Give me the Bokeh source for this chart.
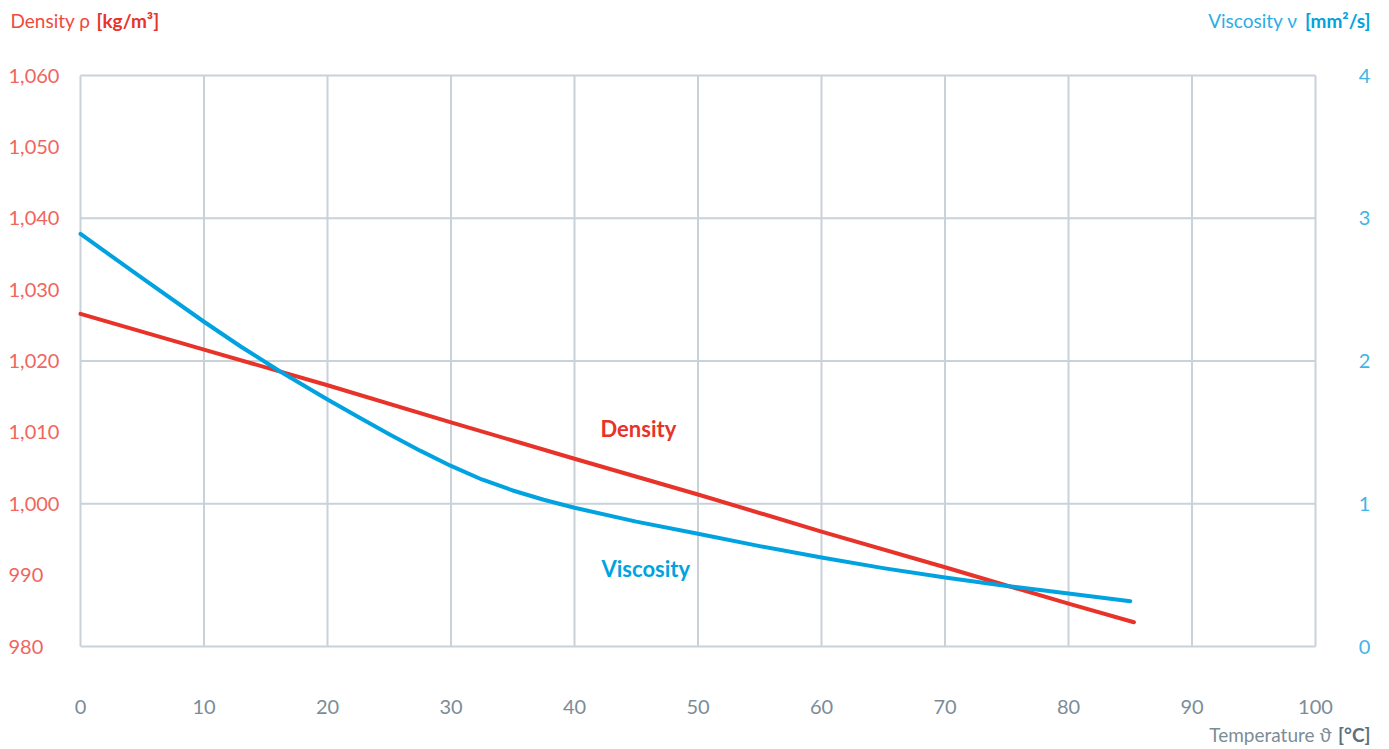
from bokeh.plotting import figure
from bokeh.models import Range1d
from bokeh.core.properties import value
from bokeh.embed import file_html
from bokeh.resources import INLINE

# ---- data ----
density_temp = [0, 10, 20, 30, 40, 50, 60, 70, 80, 85.3]
density_vals = [1026.6, 1021.6, 1016.6, 1011.4, 1006.3, 1001.3, 996.1, 991.1, 986.0, 983.4]

visc_temp = [0, 5, 10, 13, 16.2, 20, 22.5, 25, 27.5, 30, 32.5, 35, 37.5, 40, 45, 50, 55,
             60, 65, 70, 75, 80, 85]
visc_vals = [2.89, 2.58, 2.275, 2.10, 1.925, 1.73, 1.607, 1.487, 1.372, 1.265, 1.170, 1.093,
             1.028, 0.972, 0.875, 0.790, 0.703, 0.623, 0.549, 0.483, 0.424, 0.371, 0.317]

x_ticks = [0, 10, 20, 30, 40, 50, 60, 70, 80, 90, 100]
x_tick_labels = ["0", "10", "20", "30", "40", "50", "60", "70", "80", "90", "100"]
density_ticks = [980, 990, 1000, 1010, 1020, 1030, 1040, 1050, 1060]
density_tick_labels = ["980", "990", "1,000", "1,010", "1,020", "1,030", "1,040", "1,050", "1,060"]
visc_ticks = [0, 1, 2, 3, 4]
visc_tick_labels = ["0", "1", "2", "3", "4"]
grid_y = [980, 1000, 1020, 1040, 1060]

# ---- styling ----
RED = "#E8332A"
RED_TXT = "#F0655D"
BLUE = "#00A3E0"
BLUE_TXT = "#3FB4E6"
GRID = "#C9D2D9"
GREY_TXT = "#7B8C98"
GREY_DARK = "#5E6F7B"
FONT = value("Lato")

# ---- layout (pixels) ----
W, H = 1385, 747
BOX_L, BOX_R, BOX_T, BOX_B = 80, 1315, 75, 646
X0, X1 = 0, 100
Y0, Y1 = 980, 1060
V0, V1 = 0, 4

sx = (BOX_R - BOX_L) / (X1 - X0)
sy = (BOX_B - BOX_T) / (Y1 - Y0)
sv = (BOX_B - BOX_T) / (V1 - V0)

x_range = Range1d(X0 - BOX_L / sx, X1 + (W - BOX_R) / sx)
y_range = Range1d(Y0 - (H - BOX_B) / sy, Y1 + BOX_T / sy)
v_range = Range1d(V0 - (H - BOX_B) / sv, V1 + BOX_T / sv)

def xd(px):
    return X0 + (px - BOX_L) / sx

def yd(py):
    return Y1 - (py - BOX_T) / sy

p = figure(width=W, height=H, x_range=x_range, y_range=y_range,
           min_border=0, output_backend="svg", toolbar_location=None)
p.extra_y_ranges = {"visc": v_range}
p.xaxis.visible = False
p.yaxis.visible = False
p.xgrid.visible = False
p.ygrid.visible = False
p.outline_line_color = None
p.background_fill_color = "white"
p.border_fill_color = "white"

# grid / box
p.segment(x0=x_ticks, y0=[Y0] * len(x_ticks), x1=x_ticks, y1=[Y1] * len(x_ticks),
          line_color=GRID, line_width=2)
p.segment(x0=[X0] * len(grid_y), y0=grid_y, x1=[X1] * len(grid_y), y1=grid_y,
          line_color=GRID, line_width=2)

# lines
p.line(density_temp, density_vals, line_color=RED, line_width=4, line_cap="round", line_join="round")
p.line(visc_temp, visc_vals, line_color=BLUE, line_width=4, line_cap="round", line_join="round",
       y_range_name="visc")

# tick labels
p.text(x=[xd(8)] * len(density_ticks), y=density_ticks, text=density_tick_labels,
       text_align="left", text_baseline="middle", text_font=FONT, text_font_size="20px",
       text_color=RED_TXT)
p.text(x=x_ticks, y=[yd(706)] * len(x_ticks), text=x_tick_labels,
       text_align="center", text_baseline="middle", text_font=FONT, text_font_size="20px",
       text_color=GREY_TXT)
p.text(x=[xd(1364)] * len(visc_ticks), y=visc_ticks, text=visc_tick_labels,
       text_align="center", text_baseline="middle", text_font=FONT, text_font_size="20px",
       text_color=BLUE_TXT, y_range_name="visc")

def lab(px, py, text, color, size="19px", bold=False, align="left"):
    p.text(x=[xd(px)], y=[yd(py)], text=[text], text_align=align, text_baseline="middle",
           text_font=FONT, text_font_size=size, text_color=color,
           text_font_style="bold" if bold else "normal")

# axis titles
lab(10, 20, "Density ρ", "#EF4A40")
lab(96, 20, "[kg/m³]", RED, bold=True)
lab(1297, 20, "Viscosity ν", "#2AAEE4", align="right")
lab(1370, 20, "[mm²/s]", BLUE, bold=True, align="right")
lab(1331, 734, "Temperature ϑ", GREY_TXT, align="right")
lab(1370, 734, "[°C]", GREY_DARK, bold=True, align="right")

# series labels
lab(600, 428, "Density", RED, size="22px", bold=True)
lab(601, 568, "Viscosity", BLUE, size="22px", bold=True)

open("out.html", "w").write(file_html(p, INLINE))
